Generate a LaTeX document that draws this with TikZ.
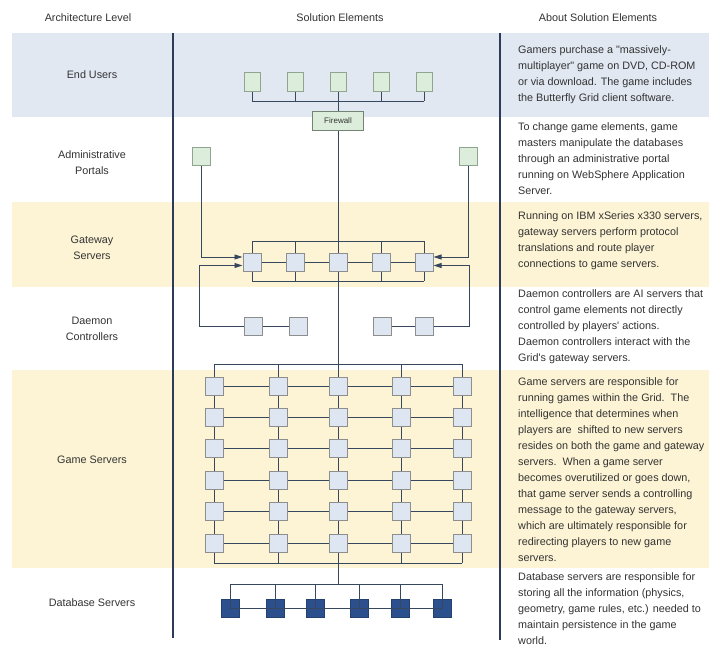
\documentclass[tikz,border=0pt]{standalone}
\usepackage{fontspec}
\setmainfont{Liberation Sans}[Ligatures=TeXOff]
\usetikzlibrary{arrows.meta,calc}
\definecolor{bandblue}{HTML}{E1E8F2}
\definecolor{bandyellow}{HTML}{FDF4D5}
\definecolor{wire}{HTML}{36475E}
\definecolor{divider}{HTML}{2B3B58}
\definecolor{boxfill}{HTML}{DEE6F2}
\definecolor{boxedge}{HTML}{8E8E8E}
\definecolor{greenfill}{HTML}{DCEEDB}
\definecolor{greenedge}{HTML}{8FA590}
\definecolor{dbfill}{HTML}{2C4F8E}
\definecolor{dbedge}{HTML}{24406F}
\definecolor{ink}{HTML}{333333}
\begin{document}
\begin{tikzpicture}[x=1pt,y=-1pt,
  wirestyle/.style={draw=wire,line width=0.95pt},
  arr/.style={wirestyle,-{Triangle[length=8pt,width=5pt]}},
  srv/.style={draw=boxedge,fill=boxfill,line width=1pt,minimum width=18pt,minimum height=18pt,inner sep=0pt},
  usr/.style={draw=greenedge,fill=greenfill,line width=1pt,minimum width=16pt,minimum height=19pt,inner sep=0pt},
  dbs/.style={draw=dbedge,fill=dbfill,line width=0.8pt,minimum width=18pt,minimum height=18pt,inner sep=0pt},
  fwall/.style={draw=greenedge!80!black,fill=greenfill,line width=1pt,minimum width=51pt,minimum height=19pt,inner sep=0pt,font=\fontsize{8}{9}\selectfont,text=ink},
  head/.style={font=\fontsize{10.8}{12}\selectfont,text=ink},
  level/.style={font=\fontsize{10.8}{16}\selectfont,text=ink,align=center},
  about/.style={font=\fontsize{10.8}{16}\selectfont,text=ink,align=left,anchor=north west,inner sep=0pt}
]
\useasboundingbox (0,0) rectangle (709,650);
\fill[white] (0,0) rectangle (709,650);

% level bands
\fill[bandblue]   (12,33)  rectangle (709,117);
\fill[bandyellow] (12,202) rectangle (709,287);
\fill[bandyellow] (12,370) rectangle (709,568);

% column dividers
\draw[divider,line width=1.2pt] (173,33) -- (173,638);
\draw[divider,line width=1.2pt] (500,33) -- (500,640);

% column headings
\node[head] (h1) at (88,18) {Architecture Level};
\node[head] (h2) at (340,18) {Solution Elements};
\node[head] (h3) at (598,18) {About Solution Elements};

% level names
\node[level] (l1) at (92,75)  {End Users};
\node[level] (l2) at (92,163) {Administrative\\Portals};
\node[level] (l3) at (92,248) {Gateway\\Servers};
\node[level] (l4) at (92,329) {Daemon\\Controllers};
\node[level] (l5) at (92,460) {Game Servers};
\node[level] (l6) at (92,603) {Database Servers};

% descriptions
\node[about] (t1) at (518,45) {Gamers purchase a "massively-\\multiplayer" game on DVD, CD-ROM\\or via download. The game includes\\the Butterfly Grid client software.};
\node[about] (t2) at (518,122) {To change game elements, game\\masters manipulate the databases\\through an administrative portal\\running on WebSphere Application\\Server.};
\node[about] (t3) at (518,211) {Running on IBM xSeries x330 servers,\\gateway servers perform protocol\\translations and route player\\connections to game servers.};
\node[about] (t4) at (518,289) {Daemon controllers are AI servers that\\control game elements not directly\\controlled by players' actions.\\Daemon controllers interact with the\\Grid's gateway servers.};
\node[about] (t5) at (518,377) {Game servers are responsible for\\running games within the Grid.\ \ The\\intelligence that determines when\\players are\ \ shifted to new servers\\resides on both the game and gateway\\servers.\ \ When a game server\\becomes overutilized or goes down,\\that game server sends a controlling\\message to the gateway servers,\\which are ultimately responsible for\\redirecting players to new game\\servers.};
\node[about] (t6) at (518,572) {Database servers are responsible for\\storing all the information (physics,\\geometry, game rules, etc.) needed to\\maintain persistence in the game\\world.};

% end users and firewall
\foreach \c/\x in {1/252,2/295,3/338,4/381,5/424}{
  \node[usr] (eu\c) at (\x,82) {};
  \coordinate (eb\c) at (\x,101);
  \draw[wirestyle] (eu\c) -- (eb\c);
}
\draw[wirestyle] (eb1) -- (eb5);
\node[fwall] (fw) at (338,121) {Firewall};
\draw[wirestyle] (eb3) -- (fw);

% administrative portals
\node[usr,minimum width=18pt,minimum height=18pt] (ad1) at (201,156) {};
\node[usr,minimum width=18pt,minimum height=18pt] (ad2) at (468,156) {};

% gateway servers
\foreach \c/\x in {1/252,2/295,3/338,4/381,5/424}{
  \node[srv] (gw\c) at (\x,262) {};
  \coordinate (gu\c) at (\x,241);
  \coordinate (gl\c) at (\x,281);
  \draw[wirestyle] (gu\c) -- (gw\c);
  \draw[wirestyle] (gw\c) -- (gl\c);
}
\draw[wirestyle] (gu1) -- (gu5);
\draw[wirestyle] (gl1) -- (gl5);
\foreach \a/\b in {1/2,2/3,3/4,4/5}
  \draw[wirestyle] (gw\a) -- (gw\b);
\draw[wirestyle] (fw) -- (gw3);

% daemon controllers
\node[srv] (dc1) at (253,326) {};
\node[srv] (dc2) at (298,326) {};
\node[srv] (dc3) at (382,326) {};
\node[srv] (dc4) at (424,326) {};
\draw[wirestyle] (dc1) -- (dc2);
\draw[wirestyle] (dc3) -- (dc4);
\coordinate (dl) at (199,326);
\coordinate (dr) at (469,326);

% feeds into the gateway row
\draw[arr] (ad1.south) |- ([yshift=5pt]gw1.west);
\draw[arr] (dc1.west) -- (dl) |- ([yshift=-3.5pt]gw1.west);
\draw[arr] (ad2.south) |- ([yshift=5pt]gw5.east);
\draw[arr] (dc4.east) -- (dr) |- ([yshift=-3.5pt]gw5.east);

% game server grid
\foreach \c/\x in {1/214,2/278,3/338,4/401,5/462}{
  \foreach \r in {1,...,6}{
    \node[srv] (g\r\c) at (\x,{386+31.4*(\r-1)}) {};
  }
  \coordinate (gt\c) at (\x,364);
  \coordinate (gb\c) at (\x,563);
  \draw[wirestyle] (gt\c) -- (g1\c);
  \draw[wirestyle] (g6\c) -- (gb\c);
  \foreach \a/\b in {1/2,2/3,3/4,4/5,5/6}
    \draw[wirestyle] (g\a\c) -- (g\b\c);
}
\foreach \r in {1,...,6}{
  \foreach \a/\b in {1/2,2/3,3/4,4/5}
    \draw[wirestyle] (g\r\a) -- (g\r\b);
}
\draw[wirestyle] (gt1) -- (gt5);
\draw[wirestyle] (gb1) -- (gb5);
\draw[wirestyle] (gw3) -- (gt3);

% database servers
\coordinate (dbt) at (338,584);
\draw[wirestyle] (gb3) -- (dbt);
\foreach \i/\x in {1/230,2/275,3/315,4/359,5/400,6/442}{
  \node[dbs] (db\i) at (\x,608) {};
  \coordinate (dbb\i) at (\x,584);
  \draw[wirestyle] (dbb\i) -- (db\i.center);
}
\draw[wirestyle] (dbb1) -- (dbb6);
\draw[wirestyle] (db1.center) -- (db6.center);
\end{tikzpicture}
\end{document}
